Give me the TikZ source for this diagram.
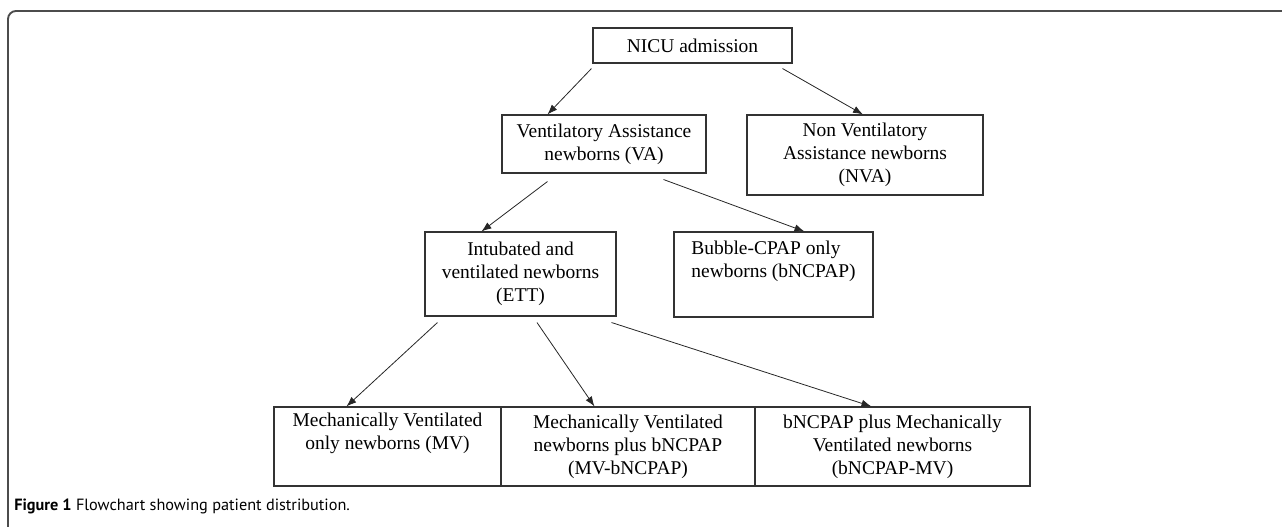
\documentclass[tikz,border=0pt]{standalone}
\usepackage{fontspec}
\setmainfont{Liberation Serif}
\newfontfamily\capfont{PT Sans}
\usetikzlibrary{arrows.meta}

\tikzset{
	box/.style={draw=black!80, line width=0.8pt, align=center, inner sep=0pt, font=\fontsize{14.6}{17.2}\selectfont},
	arr/.style={-{Latex[length=7.5pt,width=5.5pt]}, line width=0.6pt, draw=black!85},
}

\begin{document}
\begin{tikzpicture}[x=0.75pt,y=-0.75pt]
	\useasboundingbox (0,0) rectangle (1282,527);
	% outer frame
	\draw [line width=1.4pt, draw=black!70, rounded corners=6pt] (8,527) -- (8,11) -- (1282,11);
	% boxes
	\node [box, minimum width=149.25pt, minimum height=26.25pt] (nicu) at (692.5,45.5) {NICU admission};
	\node [box, minimum width=153pt, minimum height=43.5pt] (va) at (604,144) {Ventilatory Assistance\\newborns (VA)};
	\node [box, minimum width=177pt, minimum height=60pt] (nva) at (865,155) {Non Ventilatory\\Assistance newborns\\(NVA)};
	\node [box, minimum width=143.25pt, minimum height=63pt] (ett) at (520.5,274) {Intubated and\\ventilated newborns\\(ETT)};
	\node [box, align=left, minimum width=149.25pt, minimum height=63.75pt] (bub) at (773.5,274.5) {Bubble-CPAP only\\newborns (bNCPAP)\\\strut};
	\node [box, minimum width=170.25pt, minimum height=59.25pt] (mv) at (387.5,446.5) {Mechanically Ventilated\\only newborns (MV)\\\strut};
	\node [box, minimum width=190.5pt, minimum height=59.25pt] (mvb) at (628,446.5) {Mechanically Ventilated\\newborns plus bNCPAP\\(MV-bNCPAP)};
	\node [box, minimum width=206.25pt, minimum height=59.25pt] (bmv) at (892.5,446.5) {bNCPAP plus Mechanically\\Ventilated newborns\\(bNCPAP-MV)};
	% arrows
	\draw [arr] ([shift={(-1,5)}]nicu.south west) -- ([shift={(46,0)}]va.north west);
	\draw [arr] ([shift={(-10,5)}]nicu.south east) -- ([shift={(-2,0)}]nva.north);
	\draw [arr] ([shift={(46,8)}]va.south west) -- ([shift={(57,0)}]ett.north west);
	\draw [arr] ([shift={(-43,6)}]va.south east) -- ([shift={(131,0)}]bub.north west);
	\draw [arr] ([shift={(13,6)}]ett.south west) -- ([shift={(73,0)}]mv.north west);
	\draw [arr] ([shift={(16.5,6)}]ett.south) -- ([shift={(94,0)}]mvb.north west);
	\draw [arr] ([shift={(-5,6)}]ett.south east) -- ([shift={(117,0)}]bmv.north west);
	% caption
	\node [anchor=west, inner sep=0pt, font=\capfont\fontsize{12.2}{14}\selectfont] (cap) at (14,506) {\textbf{Figure 1} Flowchart showing patient distribution.};
\end{tikzpicture}
\end{document}
